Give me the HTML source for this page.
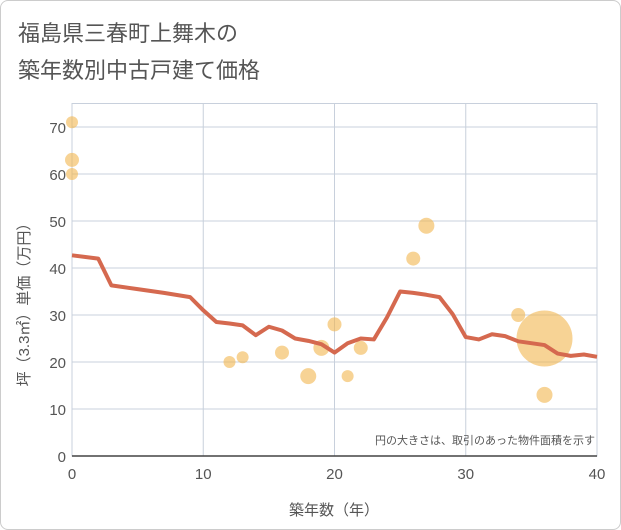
<!DOCTYPE html>
<html><head><meta charset="utf-8"><style>
body{margin:0;background:#fff;font-family:"Liberation Sans","Noto Sans CJK JP",sans-serif;}
#wrap{position:relative;width:619px;height:528px;border:1px solid #ccc;border-radius:8px;overflow:hidden;}
</style></head><body>
<div id="wrap">
<svg id="chart" width="619" height="528">
<text x="17" y="40" font-size="22" fill="#555">福島県三春町上舞木の</text>
<text x="17" y="77" font-size="22" fill="#555">築年数別中古戸建て価格</text>
<g id="grid"></g><g id="bubbles"></g><g id="line"></g><g id="axes"></g>
<text x="594" y="443" font-size="11" fill="#555" text-anchor="end">円の大きさは、取引のあった物件面積を示す</text>
<text x="333" y="514" font-size="15" fill="#555" text-anchor="middle">築年数（年）</text>
<text transform="translate(28,300) rotate(-90)" font-size="15" fill="#555" text-anchor="middle">坪（3.3㎡）単価（万円）</text>
</svg></div>
<script>
const xTicks=[0,10,20,30,40];
const yTicks=[0,10,20,30,40,50,60,70];
const lineX=[0,2,3,5,7,9,10,11,12,13,14,15,16,17,18,19,20,21,22,23,24,25,26,27,28,29,30,31,32,33,34,35,36,37,38,39,40];
const lineY=[42.7,42,36.3,35.5,34.7,33.8,31,28.5,28.2,27.8,25.7,27.5,26.7,25,24.5,23.8,22,24,25,24.8,29.5,35,34.7,34.3,33.8,30.2,25.3,24.8,25.9,25.5,24.4,24,23.6,21.8,21.3,21.6,21.1];
const bubX=[0,0,0,12,13,16,18,19,20,21,22,26,27,34,36,36];
const bubY=[71,63,60,20,21,22,17,23,28,17,23,42,49,30,25,13];
const bubR=[6,7,6,6,6,7,8,8,7,6,7,7,8,7,28,8];
const X0=71,X1=596,Y0=455,Y1=102.5;
const sx=v=>X0+(v-0)/40*(X1-X0);
const sy=v=>Y0-v/75*(Y0-Y1);
const NS="http://www.w3.org/2000/svg";
function mk(p,t,a){const e=document.createElementNS(NS,t);for(const k in a)e.setAttribute(k,a[k]);p.appendChild(e);return e;}
const g=document.getElementById('grid');
xTicks.forEach(v=>{const l=mk(g,'line',{x1:sx(v),x2:sx(v),y1:Y1,y2:Y0,stroke:'#c8d0dc'});


const t=mk(g,'text',{x:sx(v),y:Y0+23,'font-size':15,fill:'#555','text-anchor':'middle'});t.textContent=v;

});
yTicks.forEach(v=>{const l=mk(g,'line',{x1:X0,x2:X1,y1:sy(v),y2:sy(v),stroke:'#c8d0dc'});


const t=mk(g,'text',{x:X0-6,y:sy(v)+6,'font-size':15,fill:'#555','text-anchor':'end'});t.textContent=v;

});
const fr=mk(g,'rect',{x:X0,y:Y1,width:X1-X0,height:Y0-Y1,fill:'none',stroke:'#c8d0dc'});


const ax=mk(document.getElementById('axes'),'line',{x1:X0,x2:X1,y1:Y0,y2:Y0,stroke:'#444','stroke-width':1.5});


const b=document.getElementById('bubbles');
bubX.forEach((v,i)=>{const c=mk(b,'circle',{cx:sx(v),cy:sy(bubY[i]),r:bubR[i],fill:'#f2b64e','fill-opacity':0.6});

});
const p=mk(document.getElementById('line'),'polyline',{points:lineX.map((v,i)=>sx(v)+','+sy(lineY[i])).join(' '),fill:'none',stroke:'#d5694f','stroke-width':4,'stroke-linejoin':'round'});


</script>
</body></html>
